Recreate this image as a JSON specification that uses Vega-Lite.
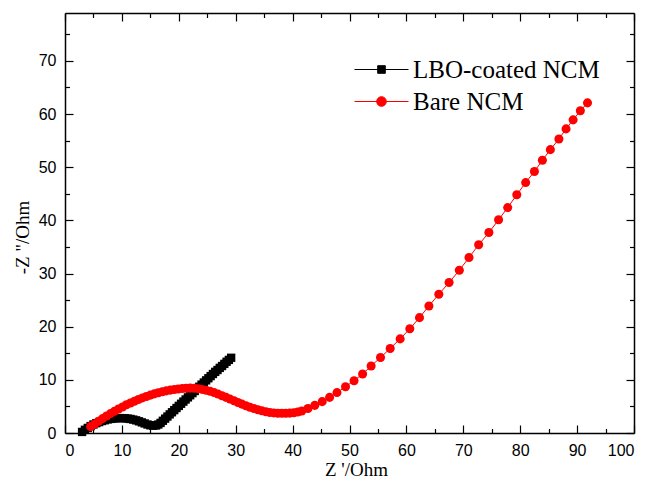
{
  "$schema": "https://vega.github.io/schema/vega-lite/v6.json",
  "width": 569,
  "height": 420,
  "autosize": {"type": "none"},
  "padding": {"left": 65, "top": 13, "right": 26, "bottom": 50},
  "background": "white",
  "config": {
    "view": {"stroke": null},
    "axis": {"grid": false, "domainColor": "black", "domainWidth": 1.5, "tickColor": "black", "tickWidth": 1.2, "labelColor": "black", "titleColor": "black"}
  },
  "datasets": {
    "eis": [
      {"series": "LBO-coated NCM", "zre": 3.0, "zim": 0.2},
      {"series": "LBO-coated NCM", "zre": 3.5, "zim": 0.6},
      {"series": "LBO-coated NCM", "zre": 4.0, "zim": 0.95},
      {"series": "LBO-coated NCM", "zre": 4.5, "zim": 1.3},
      {"series": "LBO-coated NCM", "zre": 5.0, "zim": 1.6},
      {"series": "LBO-coated NCM", "zre": 5.5, "zim": 1.85},
      {"series": "LBO-coated NCM", "zre": 6.0, "zim": 2.05},
      {"series": "LBO-coated NCM", "zre": 6.5, "zim": 2.25},
      {"series": "LBO-coated NCM", "zre": 7.0, "zim": 2.4},
      {"series": "LBO-coated NCM", "zre": 7.5, "zim": 2.55},
      {"series": "LBO-coated NCM", "zre": 8.0, "zim": 2.65},
      {"series": "LBO-coated NCM", "zre": 8.5, "zim": 2.72},
      {"series": "LBO-coated NCM", "zre": 9.0, "zim": 2.78},
      {"series": "LBO-coated NCM", "zre": 9.5, "zim": 2.8},
      {"series": "LBO-coated NCM", "zre": 10.0, "zim": 2.8},
      {"series": "LBO-coated NCM", "zre": 10.5, "zim": 2.78},
      {"series": "LBO-coated NCM", "zre": 11.0, "zim": 2.72},
      {"series": "LBO-coated NCM", "zre": 11.5, "zim": 2.64},
      {"series": "LBO-coated NCM", "zre": 12.0, "zim": 2.52},
      {"series": "LBO-coated NCM", "zre": 12.5, "zim": 2.38},
      {"series": "LBO-coated NCM", "zre": 13.0, "zim": 2.2},
      {"series": "LBO-coated NCM", "zre": 13.5, "zim": 2.0},
      {"series": "LBO-coated NCM", "zre": 14.0, "zim": 1.8},
      {"series": "LBO-coated NCM", "zre": 14.5, "zim": 1.6},
      {"series": "LBO-coated NCM", "zre": 15.0, "zim": 1.45},
      {"series": "LBO-coated NCM", "zre": 15.5, "zim": 1.38},
      {"series": "LBO-coated NCM", "zre": 16.0, "zim": 1.42},
      {"series": "LBO-coated NCM", "zre": 16.4, "zim": 1.6},
      {"series": "LBO-coated NCM", "zre": 16.8, "zim": 1.9},
      {"series": "LBO-coated NCM", "zre": 17.2, "zim": 2.3},
      {"series": "LBO-coated NCM", "zre": 17.6, "zim": 2.7},
      {"series": "LBO-coated NCM", "zre": 18.0, "zim": 3.1},
      {"series": "LBO-coated NCM", "zre": 18.4, "zim": 3.5},
      {"series": "LBO-coated NCM", "zre": 18.8, "zim": 3.9},
      {"series": "LBO-coated NCM", "zre": 19.2, "zim": 4.3},
      {"series": "LBO-coated NCM", "zre": 19.6, "zim": 4.7},
      {"series": "LBO-coated NCM", "zre": 20.0, "zim": 5.1},
      {"series": "LBO-coated NCM", "zre": 20.4, "zim": 5.5},
      {"series": "LBO-coated NCM", "zre": 20.8, "zim": 5.9},
      {"series": "LBO-coated NCM", "zre": 21.2, "zim": 6.3},
      {"series": "LBO-coated NCM", "zre": 21.6, "zim": 6.7},
      {"series": "LBO-coated NCM", "zre": 22.0, "zim": 7.1},
      {"series": "LBO-coated NCM", "zre": 22.4, "zim": 7.5},
      {"series": "LBO-coated NCM", "zre": 22.8, "zim": 7.9},
      {"series": "LBO-coated NCM", "zre": 23.2, "zim": 8.3},
      {"series": "LBO-coated NCM", "zre": 23.6, "zim": 8.7},
      {"series": "LBO-coated NCM", "zre": 24.0, "zim": 9.1},
      {"series": "LBO-coated NCM", "zre": 24.4, "zim": 9.5},
      {"series": "LBO-coated NCM", "zre": 24.8, "zim": 9.9},
      {"series": "LBO-coated NCM", "zre": 25.2, "zim": 10.3},
      {"series": "LBO-coated NCM", "zre": 25.6, "zim": 10.7},
      {"series": "LBO-coated NCM", "zre": 26.0, "zim": 11.1},
      {"series": "LBO-coated NCM", "zre": 26.4, "zim": 11.5},
      {"series": "LBO-coated NCM", "zre": 26.8, "zim": 11.85},
      {"series": "LBO-coated NCM", "zre": 27.2, "zim": 12.25},
      {"series": "LBO-coated NCM", "zre": 27.6, "zim": 12.6},
      {"series": "LBO-coated NCM", "zre": 28.0, "zim": 13.0},
      {"series": "LBO-coated NCM", "zre": 28.4, "zim": 13.4},
      {"series": "LBO-coated NCM", "zre": 28.8, "zim": 13.75},
      {"series": "LBO-coated NCM", "zre": 29.2, "zim": 14.15},
      {"series": "Bare NCM", "zre": 4.5, "zim": 1.2},
      {"series": "Bare NCM", "zre": 5.2, "zim": 1.7},
      {"series": "Bare NCM", "zre": 5.9, "zim": 2.2},
      {"series": "Bare NCM", "zre": 6.6, "zim": 2.7},
      {"series": "Bare NCM", "zre": 7.3, "zim": 3.2},
      {"series": "Bare NCM", "zre": 8.0, "zim": 3.65},
      {"series": "Bare NCM", "zre": 8.7, "zim": 4.1},
      {"series": "Bare NCM", "zre": 9.4, "zim": 4.5},
      {"series": "Bare NCM", "zre": 10.1, "zim": 4.9},
      {"series": "Bare NCM", "zre": 10.8, "zim": 5.3},
      {"series": "Bare NCM", "zre": 11.5, "zim": 5.65},
      {"series": "Bare NCM", "zre": 12.2, "zim": 5.98},
      {"series": "Bare NCM", "zre": 12.9, "zim": 6.3},
      {"series": "Bare NCM", "zre": 13.6, "zim": 6.6},
      {"series": "Bare NCM", "zre": 14.3, "zim": 6.87},
      {"series": "Bare NCM", "zre": 15.0, "zim": 7.12},
      {"series": "Bare NCM", "zre": 15.7, "zim": 7.36},
      {"series": "Bare NCM", "zre": 16.4, "zim": 7.57},
      {"series": "Bare NCM", "zre": 17.1, "zim": 7.76},
      {"series": "Bare NCM", "zre": 17.8, "zim": 7.92},
      {"series": "Bare NCM", "zre": 18.5, "zim": 8.06},
      {"series": "Bare NCM", "zre": 19.2, "zim": 8.19},
      {"series": "Bare NCM", "zre": 19.9, "zim": 8.29},
      {"series": "Bare NCM", "zre": 20.6, "zim": 8.37},
      {"series": "Bare NCM", "zre": 21.3, "zim": 8.42},
      {"series": "Bare NCM", "zre": 22.0, "zim": 8.44},
      {"series": "Bare NCM", "zre": 22.7, "zim": 8.41},
      {"series": "Bare NCM", "zre": 23.4, "zim": 8.34},
      {"series": "Bare NCM", "zre": 24.1, "zim": 8.2},
      {"series": "Bare NCM", "zre": 24.8, "zim": 8.05},
      {"series": "Bare NCM", "zre": 25.5, "zim": 7.85},
      {"series": "Bare NCM", "zre": 26.2, "zim": 7.6},
      {"series": "Bare NCM", "zre": 26.9, "zim": 7.32},
      {"series": "Bare NCM", "zre": 27.6, "zim": 7.02},
      {"series": "Bare NCM", "zre": 28.3, "zim": 6.7},
      {"series": "Bare NCM", "zre": 29.0, "zim": 6.38},
      {"series": "Bare NCM", "zre": 29.7, "zim": 6.06},
      {"series": "Bare NCM", "zre": 30.4, "zim": 5.74},
      {"series": "Bare NCM", "zre": 31.1, "zim": 5.43},
      {"series": "Bare NCM", "zre": 31.8, "zim": 5.13},
      {"series": "Bare NCM", "zre": 32.5, "zim": 4.85},
      {"series": "Bare NCM", "zre": 33.2, "zim": 4.6},
      {"series": "Bare NCM", "zre": 33.9, "zim": 4.37},
      {"series": "Bare NCM", "zre": 34.6, "zim": 4.17},
      {"series": "Bare NCM", "zre": 35.3, "zim": 4.0},
      {"series": "Bare NCM", "zre": 36.0, "zim": 3.87},
      {"series": "Bare NCM", "zre": 36.7, "zim": 3.78},
      {"series": "Bare NCM", "zre": 37.4, "zim": 3.72},
      {"series": "Bare NCM", "zre": 38.1, "zim": 3.7},
      {"series": "Bare NCM", "zre": 38.8, "zim": 3.7},
      {"series": "Bare NCM", "zre": 39.5, "zim": 3.74},
      {"series": "Bare NCM", "zre": 40.2, "zim": 3.82},
      {"series": "Bare NCM", "zre": 40.9, "zim": 3.95},
      {"series": "Bare NCM", "zre": 41.6, "zim": 4.15},
      {"series": "Bare NCM", "zre": 42.7, "zim": 4.6},
      {"series": "Bare NCM", "zre": 43.9, "zim": 5.2},
      {"series": "Bare NCM", "zre": 45.2, "zim": 5.9},
      {"series": "Bare NCM", "zre": 46.5, "zim": 6.7},
      {"series": "Bare NCM", "zre": 47.8, "zim": 7.6},
      {"series": "Bare NCM", "zre": 49.3, "zim": 8.7},
      {"series": "Bare NCM", "zre": 50.8, "zim": 9.84},
      {"series": "Bare NCM", "zre": 52.3, "zim": 11.1},
      {"series": "Bare NCM", "zre": 53.8, "zim": 12.6},
      {"series": "Bare NCM", "zre": 55.45, "zim": 14.2},
      {"series": "Bare NCM", "zre": 57.15, "zim": 15.9},
      {"series": "Bare NCM", "zre": 58.9, "zim": 17.7},
      {"series": "Bare NCM", "zre": 60.6, "zim": 19.6},
      {"series": "Bare NCM", "zre": 62.3, "zim": 21.7},
      {"series": "Bare NCM", "zre": 63.96, "zim": 23.9},
      {"series": "Bare NCM", "zre": 65.7, "zim": 26.1},
      {"series": "Bare NCM", "zre": 67.5, "zim": 28.3},
      {"series": "Bare NCM", "zre": 69.3, "zim": 30.6},
      {"series": "Bare NCM", "zre": 71.0, "zim": 33.0},
      {"series": "Bare NCM", "zre": 72.7, "zim": 35.4},
      {"series": "Bare NCM", "zre": 74.5, "zim": 37.7},
      {"series": "Bare NCM", "zre": 76.2, "zim": 40.1},
      {"series": "Bare NCM", "zre": 77.8, "zim": 42.4},
      {"series": "Bare NCM", "zre": 79.4, "zim": 44.8},
      {"series": "Bare NCM", "zre": 80.96, "zim": 47.1},
      {"series": "Bare NCM", "zre": 82.5, "zim": 49.2},
      {"series": "Bare NCM", "zre": 83.9, "zim": 51.3},
      {"series": "Bare NCM", "zre": 85.3, "zim": 53.3},
      {"series": "Bare NCM", "zre": 86.8, "zim": 55.3},
      {"series": "Bare NCM", "zre": 88.06, "zim": 57.2},
      {"series": "Bare NCM", "zre": 89.3, "zim": 58.9},
      {"series": "Bare NCM", "zre": 90.57, "zim": 60.6},
      {"series": "Bare NCM", "zre": 91.83, "zim": 62.1}
    ]
  },
  "data": {"name": "eis"},
  "layer": [
    {
      "transform": [{"filter": "datum.series === 'LBO-coated NCM'"}],
      "mark": {"type": "line", "strokeWidth": 1, "color": "black", "clip": true},
      "encoding": {
        "x": {"field": "zre", "type": "quantitative", "scale": {"domain": [0, 100], "nice": false, "zero": false},
          "axis": {"orient": "bottom", "values": [0, 10, 20, 30, 40, 50, 60, 70, 80, 90, 100], "tickSize": -8, "labelPadding": 17,
            "labelFont": "Liberation Sans", "labelFontSize": 16, "labelFontWeight": "normal",
            "title": "Z '/Ohm", "titleFont": "Liberation Serif", "titleFontSize": 19, "titleFontWeight": "normal", "titlePadding": 2, "titleX": 291}},
        "y": {"field": "zim", "type": "quantitative", "scale": {"domain": [0, 79], "nice": false, "zero": false},
          "axis": {"orient": "left", "values": [0, 10, 20, 30, 40, 50, 60, 70], "tickSize": -8, "labelPadding": 17,
            "labelFont": "Liberation Sans", "labelFontSize": 16,
            "title": "-Z \"/Ohm", "titleFont": "Liberation Serif", "titleFontSize": 19, "titleFontWeight": "normal", "titlePadding": 6, "titleY": 224}}
      }
    },
    {
      "transform": [{"filter": "datum.series === 'Bare NCM'"}],
      "mark": {"type": "line", "strokeWidth": 1, "color": "red", "clip": true},
      "encoding": {
        "x": {"field": "zre", "type": "quantitative",
          "axis": {"orient": "bottom", "values": [5, 15, 25, 35, 45, 55, 65, 75, 85, 95], "tickSize": -4.5, "labels": false, "domain": false, "title": null}},
        "y": {"field": "zim", "type": "quantitative",
          "axis": {"orient": "left", "values": [5, 15, 25, 35, 45, 55, 65, 75], "tickSize": -4.5, "labels": false, "domain": false, "title": null}}
      }
    },
    {
      "transform": [{"filter": "datum.series === 'LBO-coated NCM'"}],
      "mark": {"type": "point", "filled": true, "opacity": 1, "size": 70, "shape": "square", "color": "black"},
      "encoding": {
        "x": {"field": "zre", "type": "quantitative",
          "axis": {"orient": "top", "values": [0, 10, 20, 30, 40, 50, 60, 70, 80, 90, 100], "tickSize": -8, "labels": false, "title": null}},
        "y": {"field": "zim", "type": "quantitative",
          "axis": {"orient": "right", "values": [0, 10, 20, 30, 40, 50, 60, 70], "tickSize": -8, "labels": false, "title": null}}
      }
    },
    {
      "transform": [{"filter": "datum.series === 'Bare NCM'"}],
      "mark": {"type": "point", "filled": true, "opacity": 1, "size": 82, "shape": "circle", "color": "red"},
      "encoding": {
        "x": {"field": "zre", "type": "quantitative",
          "axis": {"orient": "top", "values": [5, 15, 25, 35, 45, 55, 65, 75, 85, 95], "tickSize": -4.5, "labels": false, "domain": false, "title": null}},
        "y": {"field": "zim", "type": "quantitative",
          "axis": {"orient": "right", "values": [5, 15, 25, 35, 45, 55, 65, 75], "tickSize": -4.5, "labels": false, "domain": false, "title": null}}
      }
    },
    {
      "transform": [{"filter": "false"}],
      "mark": {"type": "point", "filled": true, "opacity": 1, "size": 64, "strokeWidth": 1},
      "encoding": {
        "x": {"field": "zre", "type": "quantitative", "axis": null},
        "y": {"field": "zim", "type": "quantitative", "axis": null},
        "color": {"field": "series", "type": "nominal", "scale": {"domain": ["LBO-coated NCM", "Bare NCM"], "range": ["black", "red"]},
          "legend": {"orient": "none", "legendX": 304, "legendY": 44, "title": null, "padding": 0, "rowPadding": 6,
            "labelFont": "Liberation Serif", "labelFontSize": 25, "labelColor": "black", "labelOffset": 19, "labelLimit": 400,
            "symbolSize": 64, "symbolStrokeWidth": 1}},
        "stroke": {"field": "series", "type": "nominal", "scale": {"domain": ["LBO-coated NCM", "Bare NCM"], "range": ["black", "red"]}},
        "shape": {"field": "series", "type": "nominal", "scale": {"domain": ["LBO-coated NCM", "Bare NCM"],
          "range": ["M-6.75,0H6.75M-0.95,-0.95H0.95V0.95H-0.95Z", "M-6.75,0H6.75M1.2,0A1.2,1.2,0,1,1,-1.2,0A1.2,1.2,0,1,1,1.2,0Z"]}}
      }
    }
  ],
  "resolve": {"axis": {"x": "independent", "y": "independent"}}
}
